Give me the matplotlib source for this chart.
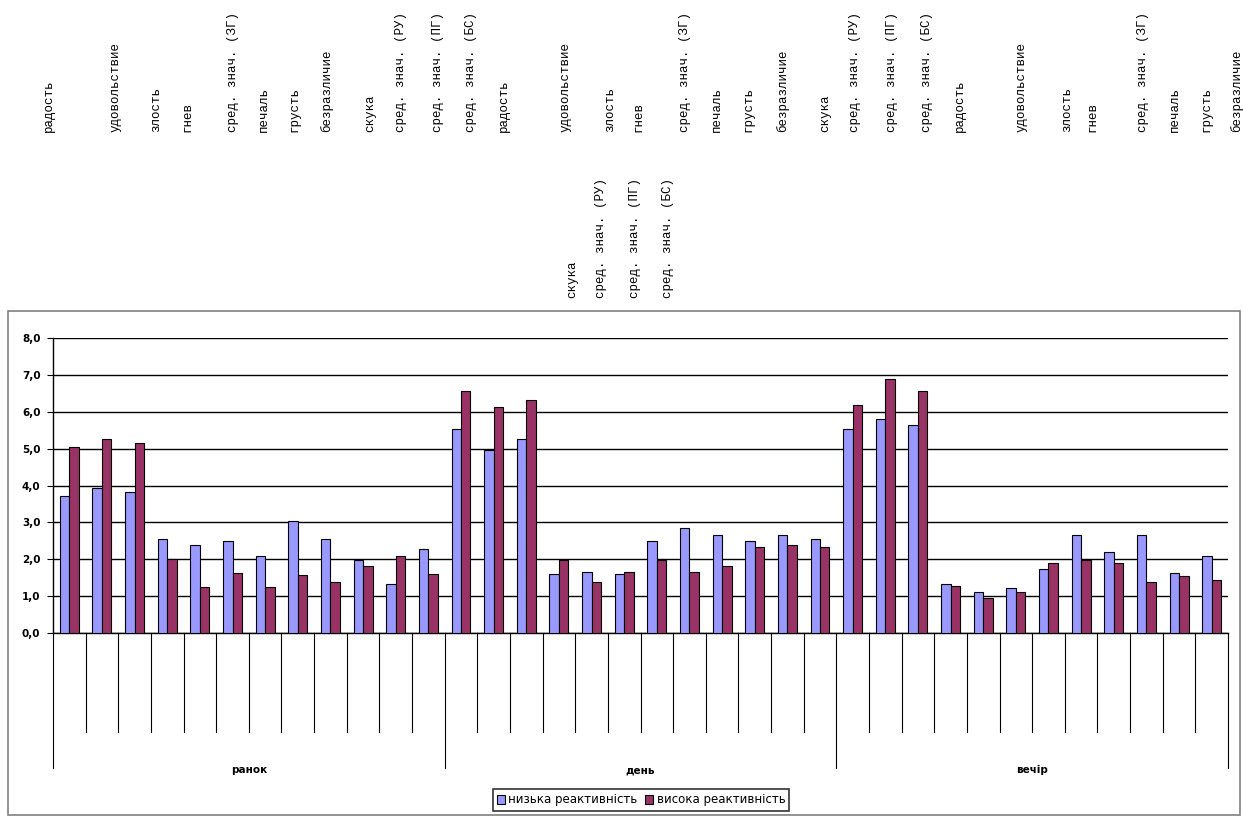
import numpy as np
import matplotlib
matplotlib.use("Agg")
import matplotlib.pyplot as plt
from matplotlib.patches import Rectangle

# category names repeated for each time of day
emotions = ['радость', 'удовольствие', 'злость', 'гнев', 'сред. знач. (ЗГ)',
            'печаль', 'грусть', 'безразличие', 'скука', 'сред. знач. (РУ)',
            'сред. знач. (ПГ)', 'сред. знач. (БС)']
groups = ['ранок', 'день', 'вечір']
series_names = ['низька реактивність', 'висока реактивність']

low = [3.72, 3.94, 3.83, 2.54, 2.38, 2.49, 2.10, 3.03, 2.54, 1.99, 1.34, 2.27,
       5.52, 4.96, 5.25, 1.61, 1.66, 1.61, 2.49, 2.86, 2.65, 2.49, 2.65, 2.54,
       5.52, 5.79, 5.63, 1.34, 1.12, 1.23, 1.73, 2.65, 2.21, 2.65, 1.62, 2.10]
high = [5.04, 5.25, 5.14, 2.00, 1.24, 1.62, 1.24, 1.56, 1.39, 1.83, 2.10, 1.61,
        6.56, 6.12, 6.33, 1.97, 1.39, 1.66, 1.99, 1.66, 1.83, 2.32, 2.38, 2.32,
        6.18, 6.88, 6.56, 1.28, 0.96, 1.12, 1.89, 1.97, 1.89, 1.39, 1.55, 1.44]

W, H = 1243, 818
fig = plt.figure(figsize=(W / 100, H / 100), dpi=100)

# outer chart frame
fig.patches.append(Rectangle((8 / W, 3 / H), 1232 / W, 504 / H, transform=fig.transFigure,
                             fill=False, edgecolor='#808080', lw=1.2))

ax = fig.add_axes([53 / W, (H - 633) / H, 1175 / W, 295 / H])
n = len(low)
x = np.arange(n)
bw = 0.29
ax.bar(x - bw / 2, low, bw, color='#9999FF', edgecolor='black', lw=0.8, zorder=3,
       label=series_names[0])
ax.bar(x + bw / 2, high, bw, color='#993366', edgecolor='black', lw=0.8, zorder=3,
       label=series_names[1])

ax.set_xlim(-0.5, n - 0.5)
ax.set_ylim(0, 8)
ax.set_yticks(range(9))
ax.set_yticklabels([f'{v:.1f}'.replace('.', ',') for v in range(9)],
                   fontsize=7.5, fontweight='bold')
ax.tick_params(axis='y', length=4, width=0.8, pad=5)
ax.set_xticks([])
ax.yaxis.grid(True, color='black', lw=1)
ax.set_axisbelow(True)
for s in ['top', 'right']:
    ax.spines[s].set_visible(False)
ax.spines['left'].set_linewidth(1)
ax.spines['bottom'].set_linewidth(1)

# two-level category axis: short lines between categories, long ones between groups
trans = ax.get_xaxis_transform()
per_group = len(emotions)
for b in np.arange(-0.5, n, 1.0):
    depth = -0.458 if (b + 0.5) % per_group == 0 else -0.336
    ax.plot([b, b], [0, depth], transform=trans, clip_on=False, color='black', lw=0.8)
for i, g in enumerate(groups):
    ax.text(i * per_group + per_group / 2 - 0.5, -0.465, g, transform=trans,
            ha='center', va='center', fontsize=7.5, fontweight='bold')

leg = fig.legend(loc='center', bbox_to_anchor=(641 / W, 1 - 800 / H), ncol=2,
                 fontsize=8.5, frameon=True, fancybox=False, edgecolor='black',
                 handlelength=0.7, handleheight=0.9, handletextpad=0.3,
                 columnspacing=0.6, borderpad=0.35)
leg.get_frame().set_linewidth(1.2)

# category names written as wrapped vertical text above the chart
row1_x = [49, 116, 156, 187, 233, 264, 294, 327, 370, 401, 438, 471,
          504, 566, 610, 638, 685, 717, 748, 783, 825, 855, 892, 927,
          960, 1022, 1067, 1092, 1143, 1175, 1206, 1237]
row2_x = [572, 601, 635, 668]
names = emotions * len(groups)
for xp, name in zip(row1_x, names):
    fig.text(xp / W, 1 - 132 / H, name, rotation=90, ha='center', va='bottom',
             family='Liberation Mono', fontsize=9)
for xp, name in zip(row2_x, names[len(row1_x):]):
    fig.text(xp / W, 1 - 298 / H, name, rotation=90, ha='center', va='bottom',
             family='Liberation Mono', fontsize=9)

fig.savefig('out.png', dpi=100)
